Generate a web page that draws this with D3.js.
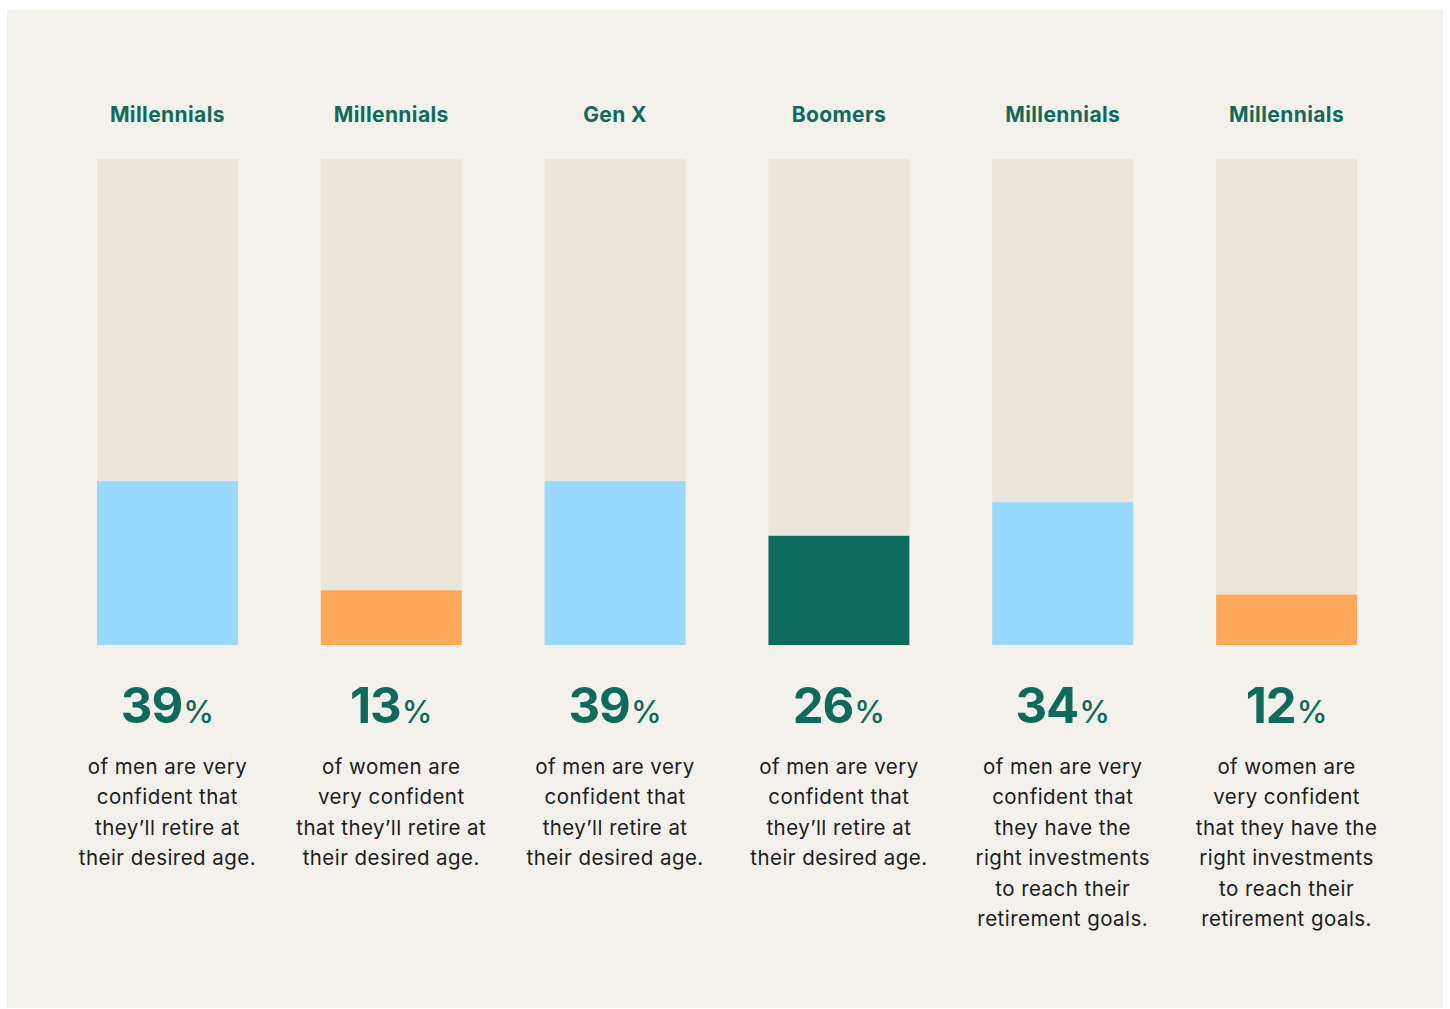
<!DOCTYPE html>
<html>
<head>
<meta charset="utf-8">
<script src="https://cdn.jsdelivr.net/npm/d3@7"></script>
<style>
  html, body { margin: 0; padding: 0; background: #ffffff; }
  svg { display: block; font-family: Inter, "Noto Sans", sans-serif; }
</style>
</head>
<body>
<svg class="chart"></svg>
<script>
const generations = ["Millennials", "Millennials", "Gen X", "Boomers", "Millennials", "Millennials"];
const shares = [39, 13, 39, 26, 34, 12];
const barColors = ["#99d9ff", "#ffa85a", "#99d9ff", "#0e6b5c", "#99d9ff", "#ffa85a"];
const captions = [
    ["of men are very", "confident that", "they\u2019ll retire at", "their desired age."],
    ["of women are", "very confident", "that they\u2019ll retire at", "their desired age."],
    ["of men are very", "confident that", "they\u2019ll retire at", "their desired age."],
    ["of men are very", "confident that", "they\u2019ll retire at", "their desired age."],
    ["of men are very", "confident that", "they have the", "right investments", "to reach their", "retirement goals."],
    ["of women are", "very confident", "that they have the", "right investments", "to reach their", "retirement goals."]
];

const width = 1450;
const height = 1009;
const green = "#0e6b5c";

const config = {
    trackTop: 159,
    baseY: 645,
    pxPerHundred: 420,
    titleY: 122,
    numberY: 723,
    captionY: 774,
    lineHeight: 30.4
};

const svg = d3.select(".chart")
    .attr("width", width)
    .attr("height", height);

svg.append("rect")
    .attr("x", 7)
    .attr("y", 10)
    .attr("width", 1436)
    .attr("height", 998)
    .attr("fill", "#f4f1ec");

const idx = shares.map((d, i) => i);

const scale_x = d3.scaleBand()
    .domain(idx)
    .range([55.5, 1398.5])
    .paddingInner(0.3705)
    .paddingOuter(0.1853);

const scale_y = d3.scaleLinear()
    .domain([0, 100])
    .range([config.baseY, config.baseY - config.pxPerHundred]);

const cols = svg.selectAll(".col")
    .data(idx)
    .join("g")
    .attr("class", "col");

// background track
cols.append("rect")
    .attr("x", i => scale_x(i))
    .attr("y", config.trackTop)
    .attr("width", scale_x.bandwidth())
    .attr("height", config.baseY - config.trackTop)
    .attr("fill", "#eae6dc");

// value bar
cols.append("rect")
    .attr("x", i => scale_x(i))
    .attr("y", i => scale_y(shares[i]))
    .attr("width", scale_x.bandwidth())
    .attr("height", i => config.baseY - scale_y(shares[i]))
    .attr("fill", i => barColors[i]);

const cx = i => scale_x(i) + scale_x.bandwidth() / 2;

cols.append("text")
    .text(i => generations[i])
    .attr("x", cx)
    .attr("y", config.titleY)
    .attr("text-anchor", "middle")
    .attr("font-size", 21)
    .attr("font-weight", 700)
    .attr("letter-spacing", 0.4)
    .attr("fill", green);

const num = cols.append("text")
    .attr("x", cx)
    .attr("y", config.numberY)
    .attr("text-anchor", "middle")
    .attr("fill", green)
    .attr("font-weight", 700);

num.append("tspan")
    .text(i => shares[i])
    .attr("font-size", 49)
    .attr("letter-spacing", -1);

num.append("tspan")
    .text("%")
    .attr("dx", 1)
    .attr("font-size", 31)
    .attr("font-weight", 500);

cols.each(function (i) {
    d3.select(this)
        .append("text")
        .attr("text-anchor", "middle")
        .attr("font-size", 20.5)
        .attr("letter-spacing", 0.45)
        .attr("fill", "#1c1c1c")
        .selectAll("tspan")
        .data(captions[i])
        .join("tspan")
        .attr("x", cx(i))
        .attr("y", (d, k) => config.captionY + k * config.lineHeight)
        .text(d => d);
});
</script>
</body>
</html>
